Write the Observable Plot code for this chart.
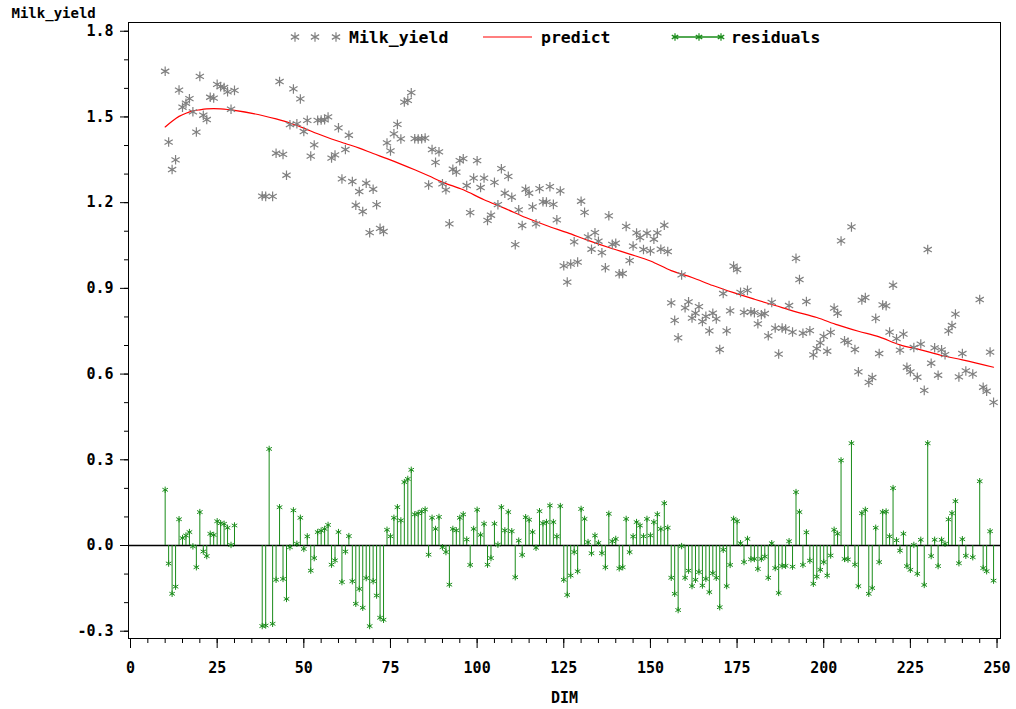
<!DOCTYPE html>
<html><head><meta charset="utf-8">
<script src="https://cdn.jsdelivr.net/npm/d3@7"></script>
<script src="https://cdn.jsdelivr.net/npm/@observablehq/plot@0.6"></script>
<style>
html,body{margin:0;padding:0;background:#fff;}
#wrap{position:relative;width:1016px;height:709px;}
#legend{position:absolute;left:0;top:0;pointer-events:none;}
</style></head><body><div id="wrap"></div>
<script>
// ---- data ----
const dim = [
 10,11,12,13,14,15,16,17,18,19,20,21,22,23,24,25,26,27,28,29,30,
 38,39,40,41,42,43,44,45,46,47,48,49,
 50,51,52,53,54,55,56,57,58,59,60,61,62,63,64,65,66,67,68,69,
 70,71,72,73,74,75,76,77,78,79,80,81,82,83,84,85,86,87,88,89,
 90,91,92,93,94,95,96,97,98,99,100,101,102,103,104,105,106,107,108,109,
 110,111,112,113,114,115,116,117,118,119,120,121,122,123,124,125,126,127,128,129,
 130,131,132,133,134,135,136,137,138,139,140,141,142,143,144,145,146,147,148,149,
 150,151,152,153,154,155,156,157,158,159,160,161,162,163,164,165,166,167,168,169,
 170,171,172,173,174,175,176,177,178,179,180,181,182,183,184,185,186,187,188,189,
 190,191,192,193,194,195,196,197,198,199,200,201,202,203,204,205,206,207,208,209,
 210,211,212,213,214,215,216,217,218,219,220,221,222,223,224,225,226,227,228,229,
 230,231,232,233,234,235,236,237,238,239,240,241,243,245,246,247,248,249
];
const milkYield = [
 1.660,1.412,1.316,1.350,1.594,1.534,1.548,1.564,1.518,1.447,1.642,1.506,1.491,1.569,1.566,1.614,1.606,1.603,1.588,1.527,1.593,
 1.223,1.222,null,1.222,1.373,1.624,1.369,1.296,1.473,1.598,1.476,1.563,
 1.449,1.488,1.363,1.402,1.488,1.489,1.490,1.500,1.356,1.367,1.462,1.283,1.386,1.436,1.274,1.191,1.239,1.169,1.268,1.095,
 1.247,1.193,1.110,1.099,1.409,1.381,1.441,1.474,1.423,1.552,1.558,1.585,1.424,1.423,1.424,1.426,1.262,1.386,1.341,1.378,
 1.266,1.245,1.126,1.317,1.307,1.347,1.354,1.260,1.165,1.286,1.347,1.253,1.286,1.138,1.156,1.271,1.193,1.319,1.233,1.292,
 1.219,1.053,1.175,1.120,1.247,1.233,1.185,1.126,1.249,1.203,1.202,1.256,1.194,1.140,1.241,0.979,0.922,0.985,1.063,0.992,
 1.205,1.166,1.080,1.037,1.095,1.065,1.025,0.972,1.154,1.054,1.058,0.951,0.952,1.117,0.997,1.048,1.094,1.078,1.036,1.093,
 1.031,1.072,1.094,1.037,1.121,1.029,0.849,0.788,0.727,0.947,0.832,0.853,0.796,0.813,0.836,0.784,0.802,0.751,0.813,0.793,
 0.686,0.882,0.751,0.821,0.978,0.966,0.886,0.816,0.893,0.818,0.815,0.776,0.808,0.812,0.734,0.851,0.761,0.670,0.761,0.758,
 0.840,0.747,1.005,0.931,0.743,0.854,0.752,0.667,0.689,0.709,0.732,0.680,0.746,0.831,0.813,1.066,0.717,0.711,1.115,0.686,
 0.608,0.859,0.868,0.571,0.588,0.795,0.672,0.842,0.839,0.747,0.911,0.724,0.684,0.740,0.624,0.608,0.693,0.589,0.705,0.543,
 1.036,0.638,0.692,0.596,0.685,0.668,0.751,0.770,0.810,0.590,0.672,0.611,0.600,0.861,0.554,0.540,0.677,0.501
];
const residuals = [
 0.195,-0.063,-0.169,-0.144,0.092,0.026,0.035,0.047,-0.003,-0.076,0.117,-0.021,-0.037,0.041,0.037,0.085,0.078,0.076,0.062,0.002,0.070,
 -0.282,-0.280,0.338,-0.274,-0.120,0.134,-0.117,-0.187,-0.006,0.123,0.006,0.097,
 -0.012,0.032,-0.088,-0.044,0.047,0.052,0.058,0.072,-0.067,-0.052,0.047,-0.128,-0.021,0.033,-0.125,-0.204,-0.152,-0.218,-0.114,-0.282,
 -0.125,-0.175,-0.253,-0.260,0.055,0.032,0.097,0.134,0.088,0.222,0.233,0.265,0.109,0.113,0.119,0.126,-0.032,0.097,0.058,0.100,
 -0.006,-0.023,-0.137,0.058,0.053,0.097,0.109,0.021,-0.068,0.058,0.125,0.037,0.076,-0.067,-0.044,0.076,0.003,0.134,0.053,0.117,
 0.050,-0.111,0.017,-0.033,0.099,0.090,0.047,-0.008,0.120,0.078,0.082,0.140,0.082,0.032,0.138,-0.120,-0.173,-0.105,-0.023,-0.090,
 0.128,0.093,0.012,-0.027,0.035,0.009,-0.027,-0.076,0.111,0.015,0.023,-0.080,-0.076,0.093,-0.023,0.032,0.082,0.070,0.032,0.093,
 0.035,0.082,0.109,0.058,0.148,0.062,-0.113,-0.169,-0.226,-0.002,-0.113,-0.088,-0.142,-0.120,-0.093,-0.140,-0.117,-0.163,-0.097,-0.113,
 -0.216,-0.015,-0.142,-0.068,0.093,0.085,0.008,-0.058,0.023,-0.048,-0.047,-0.082,-0.047,-0.039,-0.113,0.008,-0.079,-0.166,-0.072,-0.071,
 0.015,-0.074,0.187,0.117,-0.068,0.046,-0.053,-0.134,-0.109,-0.085,-0.058,-0.105,-0.035,0.055,0.041,0.298,-0.047,-0.049,0.358,-0.067,
 -0.142,0.113,0.125,-0.169,-0.149,0.062,-0.058,0.117,0.119,0.032,0.201,0.018,-0.018,0.041,-0.072,-0.085,0.002,-0.099,0.020,-0.138,
 0.358,-0.037,0.020,-0.072,0.020,0.006,0.091,0.113,0.155,-0.062,0.022,-0.036,-0.041,0.225,-0.079,-0.090,0.050,-0.123
];
const predDim = [10,12,14,16,18,20,22,24,26,28,30,38,42,46,50,54,58,62,66,70,74,78,82,86,90,96,102,108,114,120,126,132,138,144,150,156,162,168,174,180,186,192,198,204,210,216,222,228,234,240,249];
const predict = [1.465,1.485,1.502,1.513,1.521,1.525,1.528,1.529,1.528,1.526,1.523,1.505,1.493,1.479,1.461,1.441,1.423,1.407,1.391,1.372,1.354,1.335,1.315,1.294,1.272,1.245,1.210,1.180,1.148,1.120,1.095,1.068,1.043,1.020,0.996,0.962,0.938,0.910,0.885,0.862,0.840,0.818,0.798,0.772,0.750,0.730,0.702,0.685,0.665,0.650,0.624];
const xTicks = [0,25,50,75,100,125,150,175,200,225,250];
const yTicks = [-0.3,0.0,0.3,0.6,0.9,1.2,1.5,1.8];
const seriesNames = ["Milk_yield","predict","residuals"];
const xLabel = "DIM", yLabel = "Milk_yield";

// ---- chart ----
const obs = dim.map((d,i)=>({dim:d, milk:milkYield[i], resid:residuals[i]}));
const pred = predDim.map((d,i)=>({dim:d, value:predict[i]}));
const FONT = "'DejaVu Sans Mono', monospace";
const GRAY="#808080", RED="#ff0000", GREEN="#1a8c1a";

const chart = Plot.plot({
  width:1016, height:709,
  marginTop:22, marginBottom:71, marginLeft:128, marginRight:16,
  style:{fontFamily:FONT, fontWeight:"bold", fontSize:"15px", background:"#fff", color:"#000"},
  x:{domain:[-0.58,251.0]},
  y:{domain:[-0.3255,1.8306]},
  marks:[
    Plot.axisX({ticks:d3.range(0,251,5), tickSize:5, tickFormat:()=>"", label:null}),
    Plot.axisX({ticks:xTicks, tickSize:10, tickPadding:14, tickFormat:d=>String(d), label:null, fontSize:15}),
    Plot.axisY({ticks:d3.range(-3,19).map(v=>v/10), tickSize:4, tickFormat:()=>"", label:null}),
    Plot.axisY({ticks:yTicks, tickSize:8, tickPadding:7, tickFormat:v=>v.toFixed(1), label:null, fontSize:15}),
    Plot.ruleY([0], {stroke:"#000", strokeWidth:1.3}),
    Plot.ruleX(obs, {x:"dim", y1:0, y2:"resid", stroke:GREEN, strokeWidth:1}),
    Plot.dot(obs, {x:"dim", y:"resid", symbol:"asterisk", r:3, stroke:GREEN, strokeWidth:1}),
    Plot.line(pred, {x:"dim", y:"value", stroke:RED, strokeWidth:1.2, curve:"monotone-x"}),
    Plot.dot(obs, {x:"dim", y:"milk", symbol:"asterisk", r:4.5, stroke:GRAY, strokeWidth:1.2, clip:true}),
    Plot.frame({stroke:"#000"}),
    Plot.text([yLabel], {text:d=>d, frameAnchor:"top-left", dx:-117, dy:-14, textAnchor:"start", fontSize:14}),
    Plot.text([xLabel], {text:d=>d, frameAnchor:"bottom", dy:64, fontSize:15})
  ]
});
const wrap = document.getElementById("wrap");
wrap.appendChild(chart);

// ---- legend overlay ----
const lg = d3.select(wrap).append("svg").attr("id","legend").attr("width",1016).attr("height",60)
  .style("font-family",FONT).style("font-weight","bold").style("font-size","16.5px");
const star = (r)=>d3.symbol(d3.symbolAsterisk, Math.PI*r*r)();
const ly = 37;
[295,315,336].forEach(x=>lg.append("path").attr("d",star(4.5)).attr("transform",`translate(${x},${ly})`).attr("fill","none").attr("stroke",GRAY).attr("stroke-width",1.2));
lg.append("text").attr("x",349).attr("y",ly).attr("dy","0.35em").text(seriesNames[0]);
lg.append("line").attr("x1",483).attr("x2",532).attr("y1",ly).attr("y2",ly).attr("stroke",RED).attr("stroke-width",1.2);
lg.append("text").attr("x",541).attr("y",ly).attr("dy","0.35em").text(seriesNames[1]);
lg.append("line").attr("x1",673).attr("x2",723).attr("y1",ly).attr("y2",ly).attr("stroke",GREEN).attr("stroke-width",1.5);
[675,699,721].forEach(x=>lg.append("path").attr("d",star(3.5)).attr("transform",`translate(${x},${ly})`).attr("fill","none").attr("stroke",GREEN).attr("stroke-width",1.2));
lg.append("text").attr("x",731).attr("y",ly).attr("dy","0.35em").text(seriesNames[2]);
</script></body></html>
